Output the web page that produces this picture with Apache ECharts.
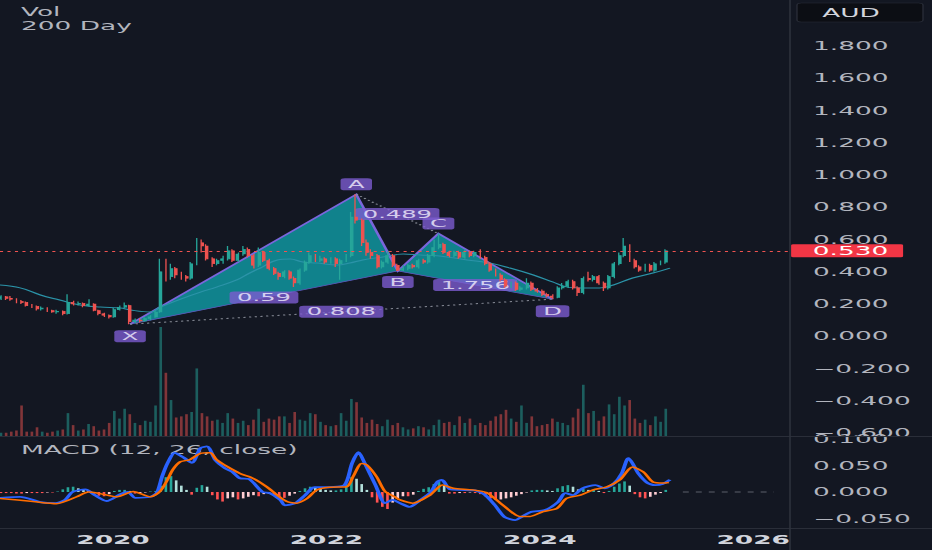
<!DOCTYPE html>
<html><head><meta charset="utf-8">
<script src="https://cdn.jsdelivr.net/npm/echarts@6/dist/echarts.min.js"></script>
<style>
html,body{margin:0;padding:0;background:#131722;overflow:hidden;width:932px;height:550px}
#c{width:424px;height:550px;transform:scaleX(2.19811);transform-origin:0 0}
</style></head><body><div id="c"></div>
<script>
// ---------- data ----------
const T_START = 2018.95, T_STEP = 0.0483; // candle dates (years), ~2.5 weeks apart
const opens = [.235,.245,.235,.23,.215,.21,.19,.185,.17,.175,.16,.15,.155,.14,.21,.2,.205,.19,.2,.16,.14,.13,.12,.165,.18,.19,.09,.1,.095,.11,.12,.15,.42,.37,.42,.38,.37,.36,.45,.58,.56,.48,.45,.47,.48,.53,.47,.51,.54,.5,.44,.52,.47,.42,.39,.37,.4,.36,.33,.41,.46,.5,.47,.48,.46,.48,.45,.47,.5,.74,.72,.58,.52,.5,.43,.46,.5,.44,.41,.42,.44,.43,.47,.46,.5,.55,.57,.52,.5,.52,.49,.52,.5,.52,.49,.45,.41,.38,.35,.31,.33,.29,.3,.33,.29,.28,.26,.25,.24,.3,.31,.34,.3,.27,.36,.35,.37,.33,.3,.37,.45,.5,.56,.47,.43,.41,.44,.41,.45,.46];
const closes = [.245,.235,.23,.215,.21,.19,.185,.17,.175,.16,.15,.155,.14,.21,.2,.205,.19,.2,.16,.14,.13,.12,.165,.18,.19,.09,.1,.095,.11,.12,.15,.4,.37,.42,.38,.37,.36,.45,.58,.56,.48,.45,.47,.48,.53,.47,.51,.54,.5,.44,.52,.47,.42,.39,.37,.4,.36,.33,.41,.46,.5,.47,.48,.46,.48,.45,.47,.5,.74,.72,.58,.52,.5,.43,.46,.5,.44,.41,.42,.44,.43,.47,.46,.5,.55,.57,.52,.5,.52,.49,.52,.5,.52,.49,.45,.41,.38,.35,.31,.33,.29,.3,.33,.29,.28,.26,.25,.24,.3,.31,.34,.3,.27,.36,.35,.37,.33,.3,.37,.45,.5,.56,.47,.43,.41,.44,.41,.45,.46,.53];
const highs = [.255,.25,.25,.235,.225,.215,.2,.19,.185,.18,.165,.165,.16,.26,.22,.215,.21,.23,.205,.165,.145,.135,.175,.19,.21,.195,.11,.11,.12,.13,.16,.48,.48,.45,.43,.4,.38,.46,.61,.6,.57,.49,.48,.5,.56,.54,.52,.56,.55,.51,.55,.53,.48,.43,.4,.41,.41,.37,.42,.47,.52,.51,.5,.49,.49,.49,.48,.51,.77,.88,.73,.6,.54,.51,.47,.53,.51,.45,.44,.45,.45,.48,.48,.51,.6,.637,.58,.53,.53,.53,.54,.53,.53,.54,.5,.46,.42,.39,.36,.34,.34,.31,.36,.34,.3,.29,.27,.26,.31,.33,.35,.35,.31,.37,.4,.38,.38,.34,.38,.46,.52,.61,.57,.48,.44,.45,.45,.46,.47,.54];
const lows = [.225,.225,.22,.205,.2,.185,.175,.16,.16,.15,.145,.14,.13,.135,.19,.19,.18,.185,.155,.13,.12,.11,.115,.16,.175,.075,.08,.085,.09,.1,.115,.145,.34,.35,.36,.35,.34,.35,.44,.52,.47,.43,.44,.45,.47,.46,.46,.5,.49,.42,.43,.46,.41,.38,.35,.36,.35,.305,.32,.4,.45,.46,.46,.45,.45,.43,.35,.46,.49,.7,.56,.5,.48,.42,.42,.45,.43,.405,.405,.41,.42,.42,.45,.45,.49,.54,.51,.49,.49,.48,.48,.49,.49,.48,.44,.4,.37,.34,.3,.3,.28,.28,.29,.28,.27,.25,.24,.23,.235,.29,.3,.29,.25,.26,.34,.34,.32,.28,.29,.36,.44,.49,.46,.42,.4,.4,.4,.4,.44,.45];
const volumes = [.3,.3,.4,.5,2.8,.4,.4,.8,.4,.3,.4,.5,.6,2.1,1.0,.5,.6,1.1,.9,.5,.6,1.2,2.3,1.6,2.5,2.0,1.2,1.0,1.4,1.3,2.8,10.0,5.8,3.3,1.7,1.8,2.0,2.2,6.2,2.1,1.8,1.4,1.5,1.2,2.1,1.6,1.2,1.4,1.0,1.5,2.5,1.3,1.6,1.5,1.8,1.8,1.2,2.2,1.5,1.4,2.1,2.0,1.3,1.0,.9,1.0,2.1,1.4,3.4,3.1,1.7,1.2,1.5,1.1,.9,1.5,1.0,1.2,.8,.6,.7,.9,.8,.6,1.0,1.5,1.2,1.3,1.0,1.8,1.2,1.6,1.0,1.2,1.0,1.4,1.8,2.0,2.4,1.6,1.3,2.8,1.2,1.8,.9,1.0,1.1,1.6,1.3,1.2,1.0,1.7,2.5,4.7,2.1,2.3,1.4,1.8,2.9,2.0,3.6,2.8,3.3,1.6,1.2,1.5,1.0,1.8,1.3,2.5];
const ma200 = [[2018.94,0.318],[2019.13,0.300],[2019.32,0.256],[2019.50,0.225],[2019.69,0.194],[2019.88,0.181],[2020.07,0.175],[2020.16,0.163],[2020.35,0.150],[2020.44,0.180],[2020.66,0.237],[2020.82,0.274],[2020.97,0.305],[2021.16,0.349],[2021.28,0.392],[2021.38,0.423],[2021.54,0.473],[2021.66,0.479],[2021.78,0.460],[2021.91,0.454],[2022.10,0.442],[2022.22,0.454],[2022.34,0.473],[2022.53,0.492],[2022.72,0.510],[2022.88,0.504],[2023.06,0.498],[2023.32,0.473],[2023.53,0.454],[2023.72,0.423],[2023.94,0.380],[2024.12,0.337],[2024.25,0.306],[2024.38,0.300],[2024.56,0.300],[2024.69,0.318],[2024.87,0.361],[2025.06,0.392],[2025.22,0.423]];
const macdLine = [[2018.94,-0.011],[2019.13,-0.009],[2019.32,-0.019],[2019.46,-0.021],[2019.55,-0.015],[2019.62,0.000],[2019.74,0.005],[2019.83,-0.006],[2019.94,-0.017],[2020.07,-0.004],[2020.14,0.000],[2020.21,-0.011],[2020.35,-0.009],[2020.41,-0.002],[2020.46,0.029],[2020.51,0.054],[2020.58,0.074],[2020.67,0.064],[2020.74,0.055],[2020.82,0.083],[2020.88,0.086],[2020.96,0.060],[2021.05,0.045],[2021.12,0.038],[2021.19,0.026],[2021.28,0.024],[2021.40,0.000],[2021.47,-0.002],[2021.57,-0.015],[2021.61,-0.025],[2021.71,-0.021],[2021.80,-0.006],[2021.89,0.009],[2022.03,0.009],[2022.17,0.013],[2022.24,0.054],[2022.30,0.075],[2022.36,0.054],[2022.46,0.013],[2022.55,-0.021],[2022.62,-0.015],[2022.69,-0.021],[2022.78,-0.028],[2022.88,-0.015],[2022.97,-0.002],[2023.04,0.019],[2023.08,0.023],[2023.16,0.005],[2023.25,0.004],[2023.39,0.003],[2023.49,-0.006],[2023.58,-0.025],[2023.67,-0.047],[2023.77,-0.053],[2023.83,-0.047],[2023.91,-0.038],[2024.05,-0.034],[2024.17,-0.019],[2024.24,-0.002],[2024.31,-0.006],[2024.40,0.007],[2024.52,0.013],[2024.61,0.007],[2024.70,0.017],[2024.77,0.036],[2024.83,0.064],[2024.87,0.054],[2024.92,0.036],[2025.01,0.017],[2025.08,0.013],[2025.15,0.015],[2025.22,0.023]];
const signalLine = [[2018.94,-0.012],[2019.25,-0.018],[2019.47,-0.022],[2019.66,-0.009],[2019.77,0.000],[2019.88,-0.003],[2020.04,-0.009],[2020.19,0.001],[2020.35,-0.009],[2020.44,0.001],[2020.51,0.023],[2020.56,0.042],[2020.63,0.057],[2020.72,0.061],[2020.82,0.073],[2020.91,0.074],[2020.97,0.061],[2021.07,0.048],[2021.19,0.035],[2021.31,0.026],[2021.44,0.010],[2021.54,-0.006],[2021.63,-0.018],[2021.72,-0.021],[2021.82,-0.012],[2021.91,0.004],[2022.03,0.009],[2022.19,0.010],[2022.25,0.029],[2022.33,0.054],[2022.38,0.051],[2022.47,0.029],[2022.55,0.001],[2022.64,-0.009],[2022.69,-0.015],[2022.81,-0.021],[2022.97,-0.006],[2023.09,0.013],[2023.19,0.007],[2023.37,0.004],[2023.50,-0.001],[2023.63,-0.021],[2023.75,-0.040],[2023.81,-0.046],[2023.91,-0.046],[2024.03,-0.037],[2024.16,-0.031],[2024.25,-0.012],[2024.38,-0.006],[2024.50,0.004],[2024.63,0.010],[2024.75,0.023],[2024.87,0.047],[2024.97,0.038],[2025.06,0.019],[2025.15,0.017],[2025.21,0.018]];
const histogram = [-.002,-.002,-.002,-.003,-.003,-.002,-.002,-.002,-.002,-.001,-.001,.001,.005,.009,.010,.007,.004,.002,-.003,-.007,-.008,-.004,.002,.004,.004,.002,-.003,-.002,-.001,.001,.002,.012,.028,.030,.022,.012,.004,-.005,.008,.013,.010,-.006,-.014,-.018,-.012,-.010,-.014,-.012,-.009,-.006,-.008,-.004,-.003,-.006,-.010,-.011,-.007,-.003,.002,.007,.010,.009,.006,.004,.003,.003,.005,.015,.028,.025,.015,.004,-.010,-.020,-.028,-.032,-.020,-.012,-.008,-.008,-.005,.002,.006,.009,.015,.020,.012,-.003,-.003,-.002,-.002,-.001,-.002,-.004,-.008,-.012,-.015,-.014,-.012,-.010,-.007,-.004,-.001,.003,.004,.004,.003,.002,.007,.011,.013,.010,.005,.006,.004,.004,.002,-.002,.002,.010,.016,.020,.012,-.004,-.010,-.012,-.009,-.005,-.002,.004];
const patternNames = ['X','A','B','C','D'];
const patternTimes = [2020.16, 2022.28, 2022.67, 2023.05, 2024.12];
const patternPrices = [0.075, 0.88, 0.405, 0.637, 0.23];
const ratioTexts = ['0.59','0.489','1.756','0.808'];
const ratioLegs = [[0,2],[1,3],[2,4],[0,4]];
const priceTicks = [-0.6,-0.4,-0.2,0,0.2,0.4,0.6,0.8,1.0,1.2,1.4,1.6,1.8];
const macdTicks = [-0.05,0,0.05,0.1];
const yearTicks = [2020,2022,2024,2026];

// ---------- layout ----------
const S = 932/424, FONT = 'DejaVu Sans';
const PLOT_W = 790/S;
const X_MIN = 2018.941, X_MAX = 2026.345;
const vertexOffsets = [12,-10,11,-10,12];
const UP = '#26a69a', DOWN = '#ef5350';

const lastPrice = closes[closes.length-1];
const times = opens.map((_, i) => T_START + i*T_STEP);
const candles = opens.map((o, i) => [times[i], o, closes[i], lows[i], highs[i]]);
const volData = volumes.map((v, i) => ({value:[times[i], v], itemStyle:{color: closes[i] >= opens[i] ? 'rgba(38,166,154,0.5)' : 'rgba(239,83,80,0.5)'}}));
const histData = histogram.map((h, i) => {
  const p = i > 0 ? histogram[i-1] : 0;
  const c = h >= 0 ? (h >= p ? '#26a69a' : '#b2dfdb') : (h <= p ? '#ff5252' : '#ffcdd2');
  return {value:[times[i], h], itemStyle:{color:c}};
});
const fmt3 = v => (v < -1e-9 ? '\u2212' : '') + Math.abs(v).toFixed(3);

const labelStyle = {show:true, position:'inside', color:'#f4f0ff', fontSize:11, fontFamily:FONT, lineHeight:10,
  backgroundColor:'#7c5bd0', padding:[1,3.4], borderRadius:2};
const labelData = patternNames.map((n, i) => ({value:[patternTimes[i], patternPrices[i]], name:n, label:{offset:[0, vertexOffsets[i]]}}))
  .concat(ratioLegs.map((leg, k) => ({
    value:[(patternTimes[leg[0]]+patternTimes[leg[1]])/2, (patternPrices[leg[0]]+patternPrices[leg[1]])/2],
    name: ratioTexts[k]})));

const chart = echarts.init(document.getElementById('c'), null, {renderer:'svg'});
chart.setOption({
  animation:false,
  backgroundColor:'#131722',
  textStyle:{fontFamily:FONT},
  grid:[{left:0, top:0, width:PLOT_W, height:436}, {left:0, top:437, width:PLOT_W, height:91}],
  xAxis:[
    {gridIndex:0, type:'value', min:X_MIN, max:X_MAX, show:false},
    {gridIndex:1, type:'value', min:X_MIN, max:X_MAX, axisLine:{show:false}, axisTick:{show:false}, splitLine:{show:false},
     axisLabel:{customValues:yearTicks, formatter:v => String(Math.round(v)), color:'#d1d4dc', fontWeight:'bold', fontSize:12, fontFamily:FONT, margin:6}}
  ],
  yAxis:[
    {gridIndex:0, type:'value', position:'right', min:-0.6186, max:2.0853, axisLine:{show:false}, axisTick:{show:false}, splitLine:{show:false},
     axisLabel:{customValues:priceTicks, formatter:fmt3, color:'#b2b5be', fontSize:12, fontFamily:FONT, margin:10.5}},
    {gridIndex:0, type:'value', min:0, max:40, show:false},
    {gridIndex:1, type:'value', position:'right', min:-0.0679, max:0.1038, axisLine:{show:false}, axisTick:{show:false}, splitLine:{show:false},
     axisLabel:{customValues:macdTicks, formatter:fmt3, color:'#b2b5be', fontSize:12, fontFamily:FONT, margin:10.5}}
  ],
  graphic:[
    {type:'line', shape:{x1:0, y1:436.5, x2:424, y2:436.5}, style:{stroke:'#2a2e39', lineWidth:1}, z:10},
    {type:'line', shape:{x1:0, y1:528.5, x2:424, y2:528.5}, style:{stroke:'#2a2e39', lineWidth:1}, z:10},
    {type:'line', shape:{x1:PLOT_W, y1:0, x2:PLOT_W, y2:550}, style:{stroke:'#2f333e', lineWidth:0.7}, z:10},
    {type:'rect', shape:{x:797/S, y:3, width:126/S, height:19, r:2}, style:{fill:'#0c0e14', stroke:'#2a2e39', lineWidth:0.6}, z:10},
    {type:'text', x:851/S, y:12.5, style:{text:'AUD', fill:'#d1d4dc', font:'12px "DejaVu Sans"', align:'center', verticalAlign:'middle'}, z:11},
    {type:'text', x:21/S, y:12, style:{text:'Vol', fill:'#b2b5be', font:'12px "DejaVu Sans"', verticalAlign:'middle'}, z:10},
    {type:'text', x:21/S, y:26, style:{text:'200 Day', fill:'#b2b5be', font:'12px "DejaVu Sans"', verticalAlign:'middle'}, z:10},
    {type:'text', x:21/S, y:449.5, style:{text:'MACD (12, 26, close)', fill:'#b2b5be', font:'12px "DejaVu Sans"', verticalAlign:'middle'}, z:0}
  ],
  series:[
    {type:'custom', xAxisIndex:0, yAxisIndex:0, z:1, silent:true,
     data:[[patternTimes[1], patternPrices[1]]],
     renderItem:(params, api) => {
       const p = patternTimes.map((t, i) => api.coord([t, patternPrices[i]]));
       const fill = 'rgba(16,158,168,0.8)';
       return {type:'group', children:[
         {type:'polygon', shape:{points:[p[0],p[1],p[2]]}, style:{fill:fill}},
         {type:'polygon', shape:{points:[p[2],p[3],p[4]]}, style:{fill:fill}},
         {type:'polyline', shape:{points:[p[0],p[2],p[4]]}, style:{stroke:'#5f58c0', lineWidth:0.7, fill:null}},
         {type:'polyline', shape:{points:p}, style:{stroke:'#7a66dc', lineWidth:1.3, fill:null}},
         {type:'line', shape:{x1:p[1][0], y1:p[1][1], x2:p[3][0], y2:p[3][1]}, style:{stroke:'#8a8e99', lineWidth:1, lineDash:[1,1.6]}},
         {type:'line', shape:{x1:p[0][0], y1:p[0][1], x2:p[4][0], y2:p[4][1]}, style:{stroke:'#8a8e99', lineWidth:1, lineDash:[1,1.6]}}
       ]};
     }},
    {type:'scatter', xAxisIndex:0, yAxisIndex:0, z:1, silent:true, symbol:'circle', symbolSize:1,
     itemStyle:{color:'rgba(0,0,0,0)'}, label:Object.assign({formatter:'{b}'}, labelStyle), data:labelData},
    {type:'bar', xAxisIndex:0, yAxisIndex:1, z:1, silent:true, barWidth:1.2, data:volData},
    {type:'line', xAxisIndex:0, yAxisIndex:0, z:2, silent:true, symbol:'none', smooth:0.4,
     lineStyle:{color:'#2b93a8', width:1}, data:ma200},
    {type:'candlestick', xAxisIndex:0, yAxisIndex:0, z:2, silent:true, barWidth:1.4,
     itemStyle:{color:UP, color0:DOWN, borderColor:UP, borderColor0:DOWN, borderWidth:0.6},
     data:candles,
     markLine:{silent:true, symbol:['none','none'], data:[{yAxis:lastPrice}],
       lineStyle:{color:'#ef5350', type:[1.4,2], width:0.9},
       label:{show:true, position:'end', distance:0.5, formatter:() => lastPrice.toFixed(3), color:'#ffffff',
         backgroundColor:'#f23645', padding:[0.5,6.7,0.5,9.9], fontSize:12, lineHeight:12, fontFamily:FONT, borderRadius:1}}},
    {type:'bar', xAxisIndex:1, yAxisIndex:2, z:1, silent:true, barWidth:1.2, data:histData},
    {type:'line', xAxisIndex:1, yAxisIndex:2, z:1, silent:true, symbol:'none',
     lineStyle:{color:'#5d606b', width:1, type:[2.7,3.2]},
     data:[[times[times.length-1] + 0.16, 0], [X_MAX - 0.15, 0]]},
    {type:'line', xAxisIndex:1, yAxisIndex:2, z:3, silent:true, symbol:'none', smooth:0.25,
     lineStyle:{color:'#2962ff', width:1.8}, data:macdLine},
    {type:'line', xAxisIndex:1, yAxisIndex:2, z:3, silent:true, symbol:'none', smooth:0.25,
     lineStyle:{color:'#ff6d00', width:1.5}, data:signalLine}
  ]
});
</script></body></html>
